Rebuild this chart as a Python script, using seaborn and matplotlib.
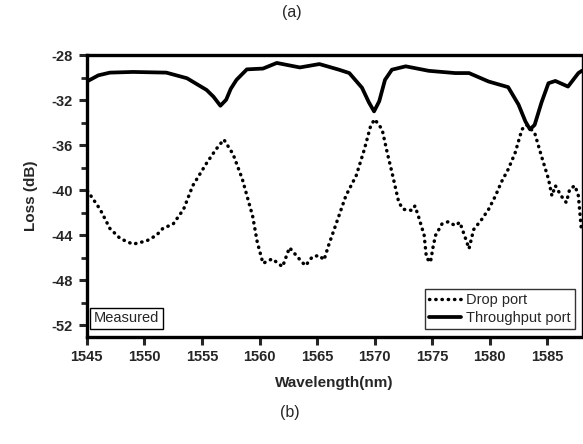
import matplotlib
matplotlib.use("Agg")
import matplotlib.pyplot as plt
import matplotlib.ticker as ticker
import numpy as np
import pandas as pd
import seaborn as sns

# throughput port (solid)
thru_wl = [1545.0, 1546.0, 1547.0, 1549.0, 1551.9, 1553.7, 1555.4, 1556.0, 1556.6, 1557.1,
           1557.5, 1558.0, 1558.9, 1560.3, 1561.5, 1563.5, 1565.2, 1566.9, 1567.8, 1568.9,
           1569.5, 1569.95, 1570.4, 1570.9, 1571.5, 1572.7, 1574.7, 1577.0, 1578.2, 1579.9,
           1581.6, 1582.5, 1583.1, 1583.5, 1583.9, 1584.5, 1585.1, 1585.7, 1586.8, 1587.7,
           1588.0]
thru_loss = [-30.35, -29.8, -29.56, -29.5, -29.56, -30.06, -31.1, -31.7, -32.5, -31.97,
             -31.0, -30.2, -29.27, -29.2, -28.7, -29.1, -28.8, -29.3, -29.6, -30.9,
             -32.2, -33.0, -32.1, -30.2, -29.3, -29.0, -29.4, -29.6, -29.6, -30.35,
             -30.85, -32.4, -33.9, -34.6, -34.2, -32.2, -30.5, -30.3, -30.8, -29.6,
             -29.4]

# drop port (dotted)
drop_wl = [1545.05, 1546.15, 1547.0, 1547.9, 1549.0, 1550.2, 1551.05, 1551.6, 1552.5, 1553.4,
           1554.2, 1555.4, 1556.2, 1556.9, 1557.7, 1558.5, 1559.4, 1559.8, 1560.3, 1561.1,
           1562.0, 1562.6, 1563.7, 1564.0, 1564.6, 1565.2, 1565.6, 1566.0, 1566.6, 1567.5,
           1568.4, 1569.1, 1569.65, 1570.0, 1570.65, 1571.1, 1571.5, 1572.1, 1572.5, 1573.25,
           1573.5, 1573.8, 1574.3, 1574.5, 1574.85, 1575.1, 1575.3, 1575.85, 1576.4, 1577.0,
           1577.4, 1577.9, 1578.2, 1578.6, 1579.3, 1579.9, 1580.5, 1581.0, 1581.6, 1582.2,
           1582.8, 1583.2, 1583.9, 1584.5, 1585.1, 1585.4, 1585.7, 1586.2, 1586.65, 1586.95,
           1587.4, 1587.7, 1587.95]
drop_loss = [-40.06, -41.7, -43.4, -44.3, -44.8, -44.5, -44.0, -43.4, -43.0, -41.7,
             -39.6, -37.6, -36.4, -35.5, -36.8, -39.0, -42.3, -44.6, -46.5, -46.1,
             -46.8, -45.1, -46.4, -46.7, -45.9, -45.8, -46.2, -44.9, -43.15, -40.5,
             -38.7, -36.4, -34.3, -33.7, -34.6, -36.7, -38.4, -41.1, -41.7, -41.8,
             -41.4, -42.3, -44.0, -46.0, -46.4, -44.9, -44.0, -43.0, -42.8, -43.15,
             -42.85, -44.3, -45.2, -43.5, -42.6, -41.7, -40.5, -39.3, -38.15, -36.7,
             -34.6, -34.2, -34.9, -37.0, -39.0, -40.5, -39.6, -40.5, -41.1, -39.9,
             -39.6, -40.5, -43.4]

x_ticks = [1545, 1550, 1555, 1560, 1565, 1570, 1575, 1580, 1585]
y_ticks = [-52, -48, -44, -40, -36, -32, -28]

sns.set_style("ticks")
plt.rcParams["font.family"] = ["Liberation Sans", "DejaVu Sans"]
plt.rcParams["axes.unicode_minus"] = False

fig = plt.figure(figsize=(5.83, 4.44), dpi=100)
ax = fig.add_axes([0.149, 0.242, 0.849, 0.634])

drop = pd.DataFrame({"wl": drop_wl, "loss": drop_loss})
thru = pd.DataFrame({"wl": thru_wl, "loss": thru_loss})

sns.lineplot(data=drop, x="wl", y="loss", ax=ax, color="black", lw=2.5,
             linestyle=(0, (0.1, 1.7)), dash_capstyle="round", label="Drop port")
sns.lineplot(data=thru, x="wl", y="loss", ax=ax, color="black", lw=2.7,
             label="Throughput port")

ax.set_xlim(1545, 1588)
ax.set_ylim(-53, -28)
ax.set_xticks(x_ticks)
ax.set_yticks(y_ticks)
ax.yaxis.set_minor_locator(ticker.MultipleLocator(2))
ax.tick_params(axis="both", which="major", length=6, width=2.2, direction="out",
               labelsize=10.5, pad=4)
ax.tick_params(axis="y", which="minor", length=4, width=2.0, direction="out")
for lab in ax.get_xticklabels() + ax.get_yticklabels():
    lab.set_fontweight("bold")

for s in ["left", "bottom", "top"]:
    ax.spines[s].set_linewidth(2.4)
ax.spines["right"].set_linewidth(1.0)
for s in ax.spines.values():
    s.set_color("black")

ax.set_xlabel("Wavelength(nm)", fontweight="bold", fontsize=11, labelpad=8)
ax.set_ylabel("Loss (dB)", fontweight="bold", fontsize=11, labelpad=10)

leg = ax.legend(loc="lower right", frameon=True, fancybox=False, fontsize=10.5,
                handlelength=2.2, handletextpad=0.3, borderpad=0.3,
                labelspacing=0.25, borderaxespad=0.5)
leg.get_frame().set_edgecolor("black")
leg.get_frame().set_linewidth(1.0)

ax.text(0.014, 0.04, "Measured", transform=ax.transAxes, fontsize=10.5,
        ha="left", va="bottom",
        bbox=dict(boxstyle="square,pad=0.25", fc="white", ec="black", lw=1.0))

fig.text(0.5, 0.972, "(a)", ha="center", va="center", fontsize=11.5)
fig.text(0.497, 0.07, "(b)", ha="center", va="center", fontsize=11.5)

fig.savefig("out.png", dpi=100)
